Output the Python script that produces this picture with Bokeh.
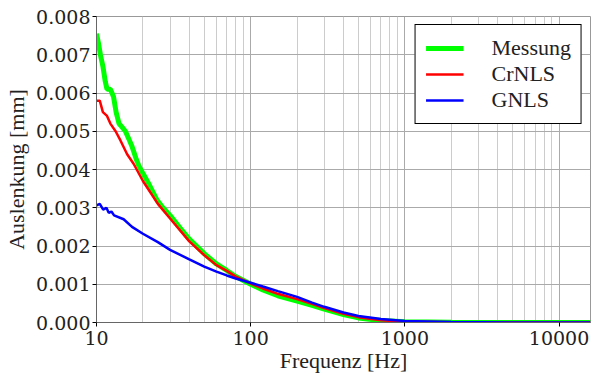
from bokeh.plotting import figure
from bokeh.models import FixedTicker, PrintfTickFormatter, Range1d, Legend, LegendItem
from bokeh.embed import file_html
from bokeh.resources import INLINE

# ---- data ----
f_mess = [10, 10.3, 10.6, 11.0, 11.4, 11.7, 12.3, 12.9, 13.4, 14.0, 14.7, 15.4, 16.2, 17.0,
          18.0, 18.8, 20, 22, 24.7, 27, 30, 35, 40, 50, 60, 70, 80, 100, 120, 150, 200,
          250, 300, 400, 500, 700, 1000, 2000, 5000, 16000]
y_mess = [0.00755, 0.0073, 0.0070, 0.0067, 0.0063, 0.0061, 0.0061, 0.0059, 0.0055, 0.0052,
          0.0051, 0.0050, 0.0048, 0.0046, 0.0043, 0.0041, 0.0039, 0.0036, 0.0032, 0.0030,
          0.0028, 0.00246, 0.00218, 0.0018, 0.00153, 0.00136, 0.0012, 0.00100, 0.00085,
          0.00070, 0.00056, 0.00045, 0.00035, 0.00021, 0.00012, 0.00005, 0.00002, 0.000004,
          0.0, 0.0]

f_cr = [10, 10.5, 11.0, 11.7, 12.3, 13.3, 14.3, 15.8, 17.4, 20, 25, 30, 40, 50, 60, 70, 80,
        100, 120, 150, 200, 250, 300, 400, 500, 700, 1000, 2000, 5000, 16000]
y_cr = [0.0058, 0.0058, 0.0055, 0.0054, 0.0052, 0.0050, 0.00476, 0.0044, 0.00415, 0.0037,
        0.0031, 0.00272, 0.00212, 0.00176, 0.0015, 0.00135, 0.0012, 0.00102, 0.00089,
        0.00075, 0.00061, 0.00049, 0.00038, 0.00023, 0.00014, 0.00006, 0.00002, 0.000004,
        0.0, 0.0]

f_g = [10, 10.5, 11.05, 11.6, 12.0, 12.5, 13, 15, 17, 20, 25, 30, 40, 50, 60, 70, 80, 100,
       120, 150, 200, 250, 300, 400, 500, 700, 1000, 2000, 5000, 16000]
y_g = [0.00306, 0.0031, 0.00295, 0.0030, 0.00287, 0.0029, 0.0028, 0.0027, 0.0025, 0.00232,
       0.0021, 0.0019, 0.00165, 0.00146, 0.00133, 0.00123, 0.00115, 0.00104, 0.00094,
       0.00082, 0.00067, 0.00052, 0.00041, 0.00026, 0.00017, 0.00009, 0.00004, 0.00001,
       0.0, 0.0]

x_major = [10, 100, 1000, 10000]
x_minor = [m * d for d in (10, 100, 1000, 10000) for m in range(2, 10) if m * d <= 16000]
y_ticks = [0.0, 0.001, 0.002, 0.003, 0.004, 0.005, 0.006, 0.007, 0.008]

FONT = "Liberation Serif"
TICK_FONT = "DejaVu Serif"

p = figure(width=591, height=380, x_axis_type="log", output_backend="svg",
           toolbar_location=None, x_range=Range1d(10, 16000), y_range=Range1d(0, 0.008),
           x_axis_label="Frequenz [Hz]", y_axis_label="Auslenkung [mm]",
           min_border_left=96, min_border_right=1, min_border_top=16, min_border_bottom=58)

p.xaxis.ticker = FixedTicker(ticks=x_major, minor_ticks=x_minor)
p.xaxis.formatter = PrintfTickFormatter(format="%d")
p.yaxis.ticker = FixedTicker(ticks=y_ticks)
p.yaxis.formatter = PrintfTickFormatter(format="%.3f")

xa = p.xaxis[0]
ya = p.yaxis[0]
for ax in (xa, ya):
    ax.major_label_text_font = TICK_FONT
    ax.major_label_text_font_size = "19px"
    ax.major_label_text_color = "#222222"
    ax.axis_label_text_font = FONT
    ax.axis_label_text_font_size = "22px"
    ax.axis_label_text_font_style = "normal"
    ax.axis_label_text_color = "#222222"
    ax.axis_line_color = "#666666"
    ax.major_tick_line_color = "black"
    ax.major_tick_out = 4
    ax.major_tick_in = 0
    ax.minor_tick_line_color = None
xa.major_label_standoff = 4
ya.major_label_standoff = 2
xa.axis_label_standoff = 0
ya.axis_label_standoff = 4

p.xgrid.grid_line_color = "#aaaaaa"
p.xgrid.minor_grid_line_color = "#cccccc"
p.ygrid.grid_line_color = "#aaaaaa"
p.outline_line_color = "#999999"
p.background_fill_color = "white"

r_mess = p.line(f_mess, y_mess, line_color="#00ff00", line_width=5)
r_cr = p.line(f_cr, y_cr, line_color="#ff0000", line_width=2.5)
r_g = p.line(f_g, y_g, line_color="#0000ff", line_width=2.5)

legend = Legend(items=[LegendItem(label="Messung", renderers=[r_mess]),
                       LegendItem(label="CrNLS", renderers=[r_cr]),
                       LegendItem(label="GNLS", renderers=[r_g])],
                location="top_right")
legend.label_text_font = FONT
legend.label_text_font_size = "22px"
legend.label_text_color = "#222222"
legend.border_line_color = "black"
legend.border_line_width = 1
legend.border_line_alpha = 1
legend.background_fill_alpha = 1
legend.glyph_width = 38
legend.glyph_height = 26
legend.label_height = 26
legend.label_standoff = 28
legend.spacing = 0
legend.padding = 10
legend.margin = 8
p.add_layout(legend)

open("out.html", "w").write(file_html(p, INLINE))
